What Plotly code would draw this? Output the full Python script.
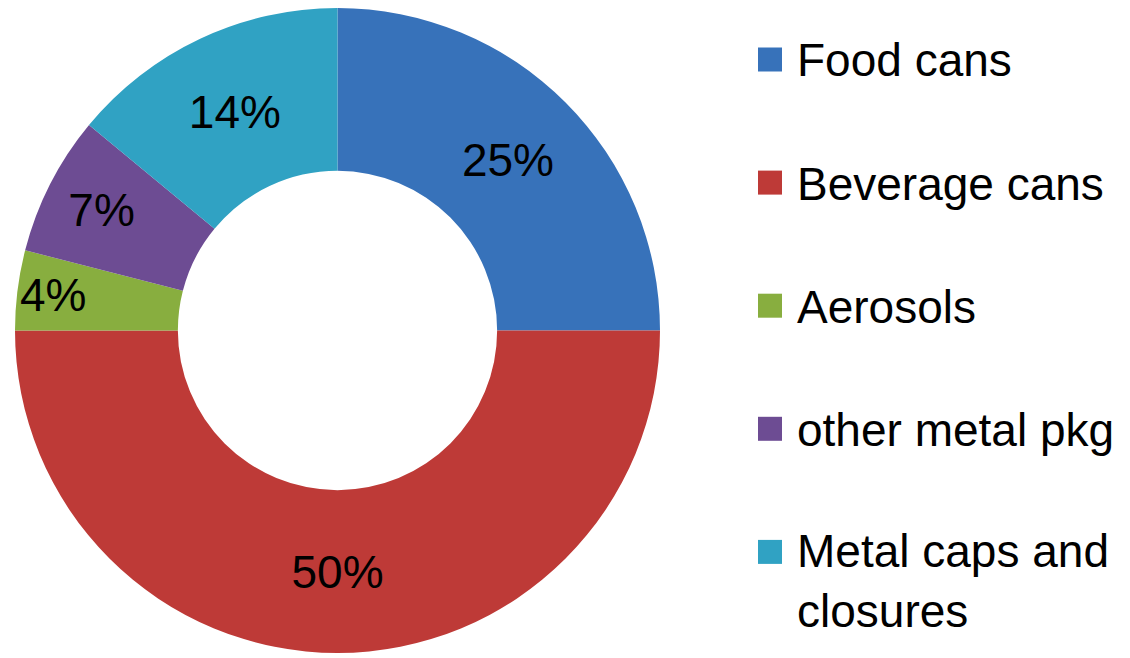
import plotly.graph_objects as go

# ---- data ----
labels = ["Food cans", "Beverage cans", "Aerosols", "other metal pkg", "Metal caps and closures"]
legend_text = ["Food cans", "Beverage cans", "Aerosols", "other metal pkg", "Metal caps and<br>closures"]
values = [25, 50, 4, 7, 14]
colors = ["#3772ba", "#be3a37", "#88ae3f", "#6d4c93", "#30a2c3"]

W, H = 1130, 658
OFF = 8  # page body margin offset
FONT = "Liberation Sans, Arial, sans-serif"

fig = go.Figure()
fig.add_trace(go.Pie(
    labels=labels,
    values=values,
    hole=0.495,
    sort=False,
    direction="clockwise",
    rotation=0,
    marker=dict(colors=colors, line=dict(width=0)),
    textinfo="percent",
    texttemplate="%{percent:.0%}",
    textposition="inside",
    insidetextorientation="horizontal",
    textfont=dict(size=46, color="black", family=FONT),
    domain=dict(x=[(15 - OFF) / W, (660 - OFF) / W], y=[1 - (653 - OFF) / H, 1.0]),
    showlegend=False,
))

# ---- manual legend (squares + text) ----
first_y = 59.5
step = 123.1
sq = 24
shapes = []
annotations = []
for i, (txt, col) in enumerate(zip(legend_text, colors)):
    cy = first_y + i * step - OFF
    x_sq = 758 - OFF
    shapes.append(dict(type="rect", xref="paper", yref="paper",
                       x0=x_sq / W, x1=(x_sq + sq) / W,
                       y0=1 - (cy + sq / 2) / H, y1=1 - (cy - sq / 2) / H,
                       fillcolor=col, line=dict(width=0)))
    nlines = txt.count("<br>") + 1
    if nlines == 1:
        annotations.append(dict(x=(795 - OFF) / W, y=1 - (cy + 1) / H, xref="paper", yref="paper",
                                text=txt, showarrow=False, xanchor="left", yanchor="middle",
                                align="left", font=dict(size=46, color="black", family=FONT)))
    else:
        annotations.append(dict(x=(795 - OFF) / W, y=1 - (cy - 29) / H, xref="paper", yref="paper",
                                text=txt, showarrow=False, xanchor="left", yanchor="top",
                                align="left", font=dict(size=46, color="black", family=FONT)))

fig.update_layout(
    width=W, height=H,
    margin=dict(l=0, r=0, t=0, b=0),
    paper_bgcolor="white", plot_bgcolor="white",
    uniformtext=dict(minsize=46, mode="show"),
    shapes=shapes,
    annotations=annotations,
    showlegend=False,
)

fig.write_html("out.html")
